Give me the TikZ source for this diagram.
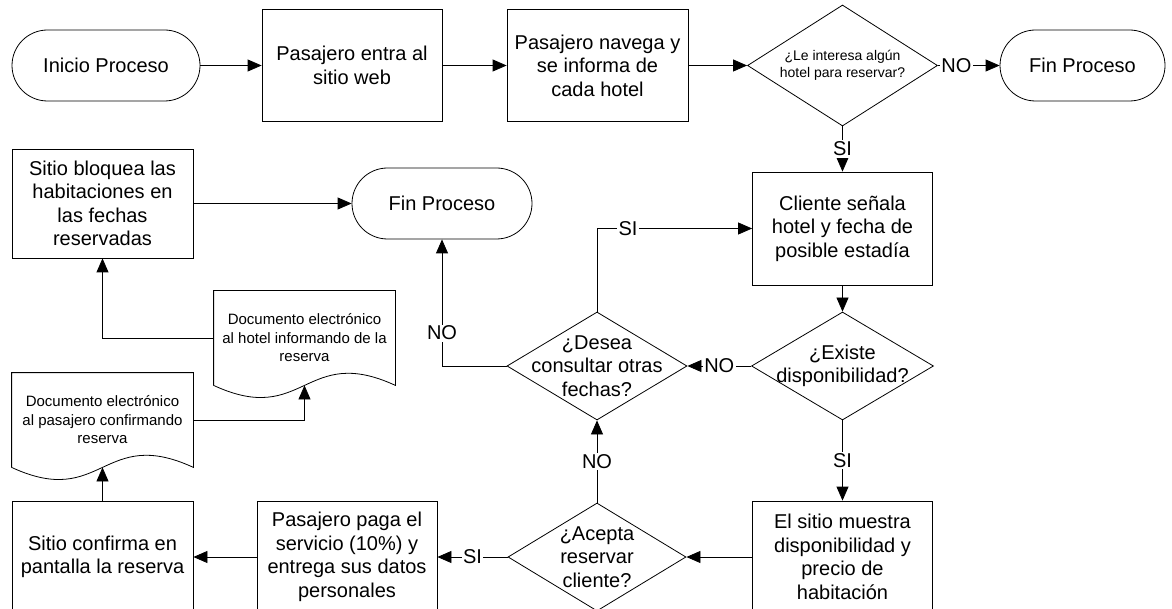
\documentclass[tikz,border=0pt]{standalone}
\usepackage{fontspec}
\setmainfont{Liberation Sans}
\usetikzlibrary{shapes.geometric,arrows.meta}

\begin{document}
\begin{tikzpicture}[x=1pt, y=-1pt, line width=0.8pt,
    >={Triangle[length=14pt,width=12pt]},
    every node/.style={font=\fontsize{20}{23.5}\selectfont},
    terminal/.style={draw, rounded corners=35.5pt, minimum height=71, inner sep=0},
    process/.style={draw, minimum width=180, minimum height=112, align=center, inner sep=0},
    decision/.style={draw, diamond, minimum width=180, minimum height=108, inner sep=0},
    docbox/.style={minimum width=181, minimum height=94, align=center, inner sep=0, font=\fontsize{15}{18.5}\selectfont},
    answer/.style={fill=white, inner sep=1.5pt}]
    \useasboundingbox (0,0) rectangle (1172,609);

    \node[terminal, minimum width=188] (inicio) at (106,65.5) {Inicio Proceso};
    \node[process] (entra) at (352,65.5) {Pasajero entra al\\sitio web};
    \node[process, minimum width=181] (navega) at (597.5,65.5) {Pasajero navega y\\se informa de\\cada hotel};
    \node[decision, minimum width=190, minimum height=121,
        label={[align=center, font=\fontsize{14}{17}\selectfont]center:{¿Le interesa algún\\hotel para reservar?}}] (interesa) at (842.5,65.5) {};
    \node[terminal, minimum width=165] (finA) at (1082.5,65.5) {Fin Proceso};

    \node[process, minimum height=113] (senala) at (842.5,228.5) {Cliente señala\\hotel y fecha de\\posible estadía};
    \node[decision, minimum width=182, label={[align=center]center:{¿Existe\\disponibilidad?}}] (existe) at (842.5,366) {};
    \node[decision, label={[align=center]center:{¿Desea\\consultar otras\\fechas?}}] (desea) at (597,366) {};
    \node[terminal, minimum width=180] (finB) at (442,203.5) {Fin Proceso};
    \node[process, minimum width=181, minimum height=109] (bloquea) at (102.5,203.5) {Sitio bloquea las\\habitaciones en\\las fechas\\reservadas};

    \node[docbox] (dochotel) at (304.5,338) {Documento electrónico\\al hotel informando de la\\reserva};
    \draw (dochotel.south west) -- (dochotel.north west) -- (dochotel.north east) -- (dochotel.south east)
        .. controls ([yshift=42]dochotel.south) and ([yshift=-42]dochotel.south) .. (dochotel.south west);
    \node[docbox] (docpasajero) at (102.5,420) {Documento electrónico\\al pasajero confirmando\\reserva};
    \draw (docpasajero.south west) -- (docpasajero.north west) -- (docpasajero.north east) -- (docpasajero.south east)
        .. controls ([yshift=42]docpasajero.south) and ([yshift=-42]docpasajero.south) .. (docpasajero.south west);

    \node[process, minimum width=181] (confirma) at (102.5,557) {Sitio confirma en\\pantalla la reserva};
    \node[process] (paga) at (347,557) {Pasajero paga el\\servicio (10\%) y\\entrega sus datos\\personales};
    \node[decision, minimum width=178, label={[align=center]center:{¿Acepta\\reservar\\cliente?}}] (acepta) at (597,557) {};
    \node[process] (muestra) at (842.5,557) {El sitio muestra\\disponibilidad y\\precio de\\habitación};

    \draw[->] (inicio) -- (entra);
    \draw[->] (entra) -- (navega);
    \draw[->] (navega) -- (interesa);
    \draw[->] (interesa) -- node[answer, pos=0.3] {NO} (finA);
    \draw[->] (interesa) -- node[answer] {SI} (senala);
    \draw[->] (senala) -- (existe);
    \draw[->] (existe) -- node[answer] {NO} (desea);
    \draw[->] (existe) -- node[answer] {SI} (muestra);
    \draw[->] (desea.north) |- node[answer, pos=0.6] {SI} (senala.west);
    \draw[->] (desea.west) -| node[answer, pos=0.63] {NO} (finB.south);
    \draw[->] (bloquea) -- (finB);
    \draw[->] (dochotel.west) -| (bloquea.south);
    \draw[->] (docpasajero.east) -| (dochotel.south);
    \draw[->] (confirma) -- (docpasajero.south);
    \draw[->] (paga) -- (confirma);
    \draw[->] (acepta) -- node[answer] {SI} (paga);
    \draw[->] (acepta) -- node[answer] {NO} (desea);
    \draw[->] (muestra) -- (acepta);
\end{tikzpicture}
\end{document}
